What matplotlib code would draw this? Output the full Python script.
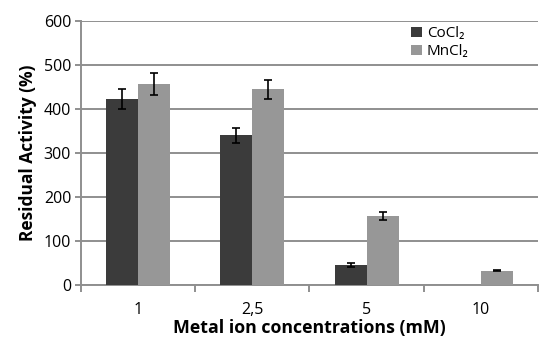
import numpy as np
import matplotlib.pyplot as plt
from matplotlib import rcParams

rcParams["font.family"] = ["Open Sans", "DejaVu Sans"]

categories = ["1", "2,5", "5", "10"]
series_names = ["CoCl₂", "MnCl₂"]
cocl2 = [423, 340, 46, 0]
cocl2_err = [22, 18, 4, np.nan]
mncl2 = [457, 445, 157, 33]
mncl2_err = [24, 22, 9, 2]

dark = "#3b3b3b"
light = "#979797"
grid_col = "#8f8f8f"

fig = plt.figure(figsize=(5.39, 3.39), dpi=100)
ax = fig.add_axes([0.150, 0.159, 0.848, 0.779])

x = np.arange(len(categories))
w = 0.28
err_kw = dict(ecolor="black", capsize=3, elinewidth=1.2, capthick=1.2)
ax.bar(x - w/2, cocl2, w, yerr=cocl2_err, color=dark, label=series_names[0],
       error_kw=err_kw, zorder=3)
ax.bar(x + w/2, mncl2, w, yerr=mncl2_err, color=light, label=series_names[1],
       error_kw=err_kw, zorder=3)

ax.set_xlim(-0.5, len(categories) - 0.5)
ax.set_ylim(0, 600)
ax.set_yticks(range(0, 601, 100))
ax.yaxis.grid(True, color=grid_col, linewidth=1.4, zorder=0)

# category boundary ticks, labels centred between them
ax.set_xticks(np.arange(-0.5, len(categories), 1.0))
ax.set_xticklabels([])
ax.set_xticks(x, minor=True)
ax.set_xticklabels(categories, minor=True, fontsize=11.5)
ax.tick_params(axis="x", which="major", length=5, width=1.4, color=grid_col)
ax.tick_params(axis="x", which="minor", length=0, pad=12)
ax.tick_params(axis="y", length=4, width=1.4, color=grid_col, labelsize=11.5, pad=3)

for s in ["top", "right"]:
    ax.spines[s].set_visible(False)
for s in ["left", "bottom"]:
    ax.spines[s].set_color(grid_col)
    ax.spines[s].set_linewidth(1.4)

ax.set_ylabel("Residual Activity (%)", fontsize=12.5, fontweight="bold", labelpad=5)
ax.set_xlabel("Metal ion concentrations (mM)", fontsize=12.8, fontweight="bold", labelpad=1)

ax.legend(loc="upper left", bbox_to_anchor=(0.70, 1.02), frameon=False, fontsize=11,
          handlelength=0.7, handleheight=0.7, handletextpad=0.3, labelspacing=0.2,
          borderaxespad=0.3)

fig.savefig("out.png", dpi=100)
